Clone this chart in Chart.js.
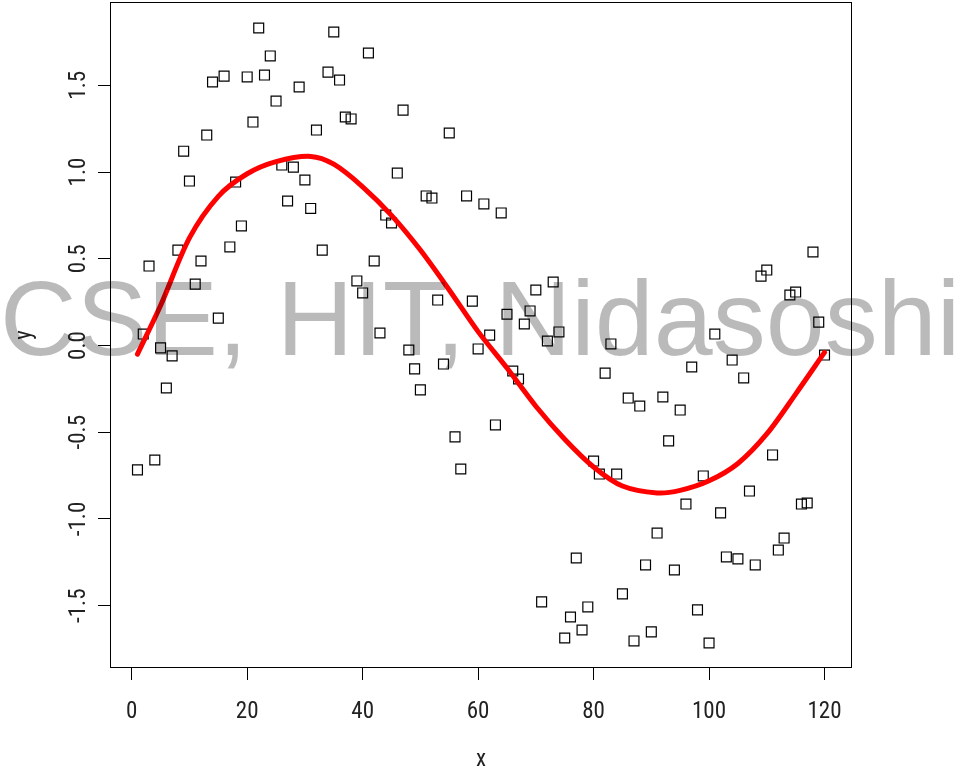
<!DOCTYPE html>
<html><head><meta charset="utf-8">
<script src="https://cdn.jsdelivr.net/npm/chart.js@4/dist/chart.umd.min.js"></script>
<style>
html,body{margin:0;padding:0;background:#fff;}
#wrap{position:relative;width:960px;height:773px;overflow:hidden;background:#fff;}
canvas{position:absolute;left:0;top:0;}
#wm{position:absolute;left:0px;top:265px;font-family:"Liberation Sans",Arial,sans-serif;font-size:106px;line-height:106px;color:rgba(0,0,0,0.27);white-space:nowrap;pointer-events:none;}
</style></head>
<body><div id="wrap"><canvas id="c" width="960" height="773"></canvas><div id="wm">CSE, HIT, Nidasoshi</div></div>
<script>
const xValues = [1,2,3,4,5,6,7,8,9,10,11,12,13,14,15,16,17,18,19,20,
 21,22,23,24,25,26,27,28,29,30,31,32,33,34,35,36,37,38,39,40,
 41,42,43,44,45,46,47,48,49,50,51,52,53,54,55,56,57,58,59,60,
 61,62,63,64,65,66,67,68,69,70,71,72,73,74,75,76,77,78,79,80,
 81,82,83,84,85,86,87,88,89,90,91,92,93,94,95,96,97,98,99,100,
 101,102,103,104,105,106,107,108,109,110,111,112,113,114,115,116,117,118,119,120];
const yValues = [-0.717,0.066,0.458,-0.66,-0.014,-0.245,-0.06,0.55,1.12,0.948,
 0.354,0.487,1.213,1.519,0.158,1.553,0.568,0.942,0.689,1.548,
 1.288,1.83,1.559,1.669,1.409,1.04,0.833,1.028,1.49,0.954,
 0.79,1.242,0.55,1.576,1.807,1.53,1.317,1.306,0.372,0.303,
 1.686,0.487,0.072,0.752,0.706,0.994,1.357,-0.026,-0.135,-0.256,
 0.862,0.85,0.262,-0.107,1.225,-0.527,-0.712,0.862,0.256,-0.02,
 0.816,0.06,-0.458,0.764,0.18,-0.147,-0.193,0.124,0.199,0.32,
 -1.478,0.026,0.366,0.078,-1.686,-1.565,-1.225,-1.64,-1.507,-0.666,
 -0.741,-0.159,0.009,-0.741,-1.432,-0.303,-1.703,-0.349,-1.265,-1.651,
 -1.081,-0.297,-0.55,-1.294,-0.372,-0.914,-0.124,-1.524,-0.752,-1.715,
 0.066,-0.965,-1.219,-0.084,-1.23,-0.187,-0.839,-1.265,0.4,0.435,
 -0.631,-1.179,-1.11,0.291,0.308,-0.914,-0.908,0.539,0.135,-0.055];
const curveX = [1,5,10,15,20,25,31,35,40,45,50,55,60,65,70,75,80,85,91,95,100,105,110,115,120];
const curveY = [-0.05,0.23,0.62,0.86,0.99,1.06,1.09,1.045,0.915,0.75,0.55,0.32,0.08,-0.13,-0.35,-0.54,-0.7,-0.81,-0.85,-0.835,-0.78,-0.68,-0.51,-0.28,-0.04];
const xTickValues = [0,20,40,60,80,100,120];
const yTickValues = [-1.5,-1.0,-0.5,0.0,0.5,1.0,1.5];

const FONT = '"Roboto Condensed","Liberation Sans",Arial,sans-serif';

const boxPlugin = {
  id:'box',
  afterDatasetsDraw(chart){
    const {ctx, chartArea:a} = chart;
    ctx.save();
    ctx.strokeStyle = '#000';
    ctx.lineWidth = 1;
    ctx.strokeRect(Math.round(a.left)+0.5, Math.round(a.top)+0.5, Math.round(a.right-a.left)-1, Math.round(a.bottom-a.top)-1);
    ctx.restore();
  }
};

new Chart(document.getElementById('c'), {
  type:'scatter',
  data:{datasets:[
    {label:'fit', data: curveX.map((x,i)=>({x:x, y:curveY[i]})), showLine:true, borderColor:'#ff0000', borderWidth:5,
     pointRadius:0, tension:0.3, fill:false, order:0, clip:false, borderCapStyle:'round'},
    {label:'y', data: xValues.map((x,i)=>({x:x, y:yValues[i]})), pointStyle:'rect', pointRadius:7, borderColor:'#000',
     backgroundColor:'rgba(0,0,0,0)', pointBorderWidth:1.2, borderWidth:1.2, order:1, clip:false}
  ]},
  options:{
    responsive:false, animation:false, devicePixelRatio:1,
    layout:{autoPadding:false, padding:{top:2,right:108,left:0,bottom:0}},
    plugins:{legend:{display:false}, tooltip:{enabled:false}},
    scales:{
      x:{type:'linear', position:'bottom', min:-3.76, max:124.76,
        afterBuildTicks:s=>{s.ticks = xTickValues.map(v=>({value:v}));},
        afterFit:s=>{s.height=105; s.paddingLeft=0; s.paddingRight=0;},
        grid:{display:true, drawOnChartArea:false, drawTicks:true, tickLength:12, color:'#000', lineWidth:1},
        border:{display:false},
        ticks:{autoSkip:false, maxRotation:0, minRotation:0, padding:18, color:'#222',
          font:{family:FONT, size:23}, callback:v=>String(v)},
        title:{display:true, text:'x', color:'#222', font:{family:FONT, size:23, lineHeight:1}, padding:{top:0,bottom:1}}
      },
      y:{type:'linear', position:'left', min:-1.859, max:1.98,
        afterBuildTicks:s=>{s.ticks = yTickValues.map(v=>({value:v}));},
        afterFit:s=>{s.width=110; s.paddingTop=0; s.paddingBottom=0;},
        grid:{display:true, drawOnChartArea:false, drawTicks:true, tickLength:12, color:'#000', lineWidth:1},
        border:{display:false},
        ticks:{autoSkip:false, minRotation:90, maxRotation:90, crossAlign:'center', padding:2, color:'#222',
          font:{family:FONT, size:23}, callback:v=>Number(v).toFixed(1)},
        title:{display:true, text:'y', color:'#222', font:{family:FONT, size:23, lineHeight:1}, padding:{top:13.5,bottom:0}}
      }
    }
  },
  plugins:[boxPlugin]
});
</script>
</body></html>
